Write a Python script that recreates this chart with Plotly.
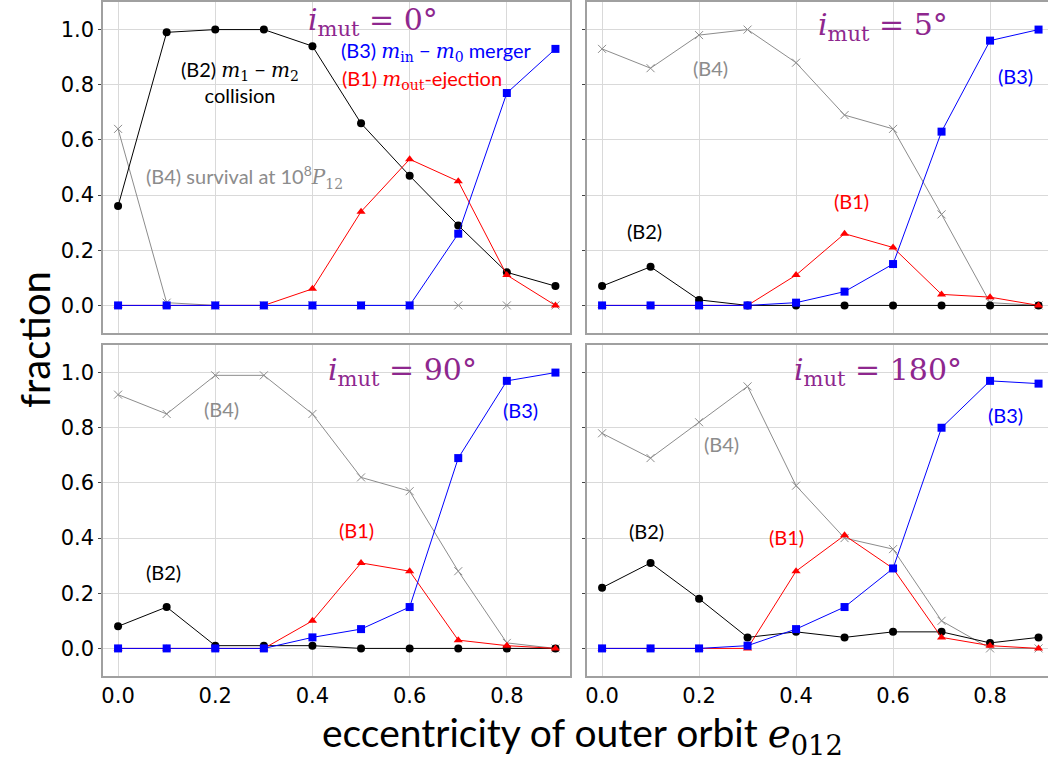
import plotly.graph_objects as go

# Outer-orbit eccentricity grid
ecc = [0.0, 0.1, 0.2, 0.3, 0.4, 0.5, 0.6, 0.7, 0.8, 0.9]

# Mutual inclination of each panel (degrees)
inclinations = [0, 5, 90, 180]

# i_mut = 0 deg
b1_i0 = [0.0, 0.0, 0.0, 0.0, 0.06, 0.34, 0.53, 0.45, 0.11, 0.0]
b2_i0 = [0.36, 0.99, 1.0, 1.0, 0.94, 0.66, 0.47, 0.29, 0.12, 0.07]
b3_i0 = [0.0, 0.0, 0.0, 0.0, 0.0, 0.0, 0.0, 0.26, 0.77, 0.93]
b4_i0 = [0.64, 0.01, 0.0, 0.0, 0.0, 0.0, 0.0, 0.0, 0.0, 0.0]

# i_mut = 5 deg
b1_i5 = [0.0, 0.0, 0.0, 0.0, 0.11, 0.26, 0.21, 0.04, 0.03, 0.0]
b2_i5 = [0.07, 0.14, 0.02, 0.0, 0.0, 0.0, 0.0, 0.0, 0.0, 0.0]
b3_i5 = [0.0, 0.0, 0.0, 0.0, 0.01, 0.05, 0.15, 0.63, 0.96, 1.0]
b4_i5 = [0.93, 0.86, 0.98, 1.0, 0.88, 0.69, 0.64, 0.33, 0.01, 0.0]

# i_mut = 90 deg
b1_i90 = [0.0, 0.0, 0.0, 0.0, 0.10, 0.31, 0.28, 0.03, 0.01, 0.0]
b2_i90 = [0.08, 0.15, 0.01, 0.01, 0.01, 0.0, 0.0, 0.0, 0.0, 0.0]
b3_i90 = [0.0, 0.0, 0.0, 0.0, 0.04, 0.07, 0.15, 0.69, 0.97, 1.0]
b4_i90 = [0.92, 0.85, 0.99, 0.99, 0.85, 0.62, 0.57, 0.28, 0.02, 0.0]

# i_mut = 180 deg
b1_i180 = [0.0, 0.0, 0.0, 0.0, 0.28, 0.41, 0.29, 0.04, 0.01, 0.0]
b2_i180 = [0.22, 0.31, 0.18, 0.04, 0.06, 0.04, 0.06, 0.06, 0.02, 0.04]
b3_i180 = [0.0, 0.0, 0.0, 0.01, 0.07, 0.15, 0.29, 0.80, 0.97, 0.96]
b4_i180 = [0.78, 0.69, 0.82, 0.95, 0.59, 0.40, 0.36, 0.10, 0.0, 0.0]

y_ticks = [0.0, 0.2, 0.4, 0.6, 0.8, 1.0]
x_ticks = [0.0, 0.2, 0.4, 0.6, 0.8]

panels = [
    (b1_i0, b2_i0, b3_i0, b4_i0),
    (b1_i5, b2_i5, b3_i5, b4_i5),
    (b1_i90, b2_i90, b3_i90, b4_i90),
    (b1_i180, b2_i180, b3_i180, b4_i180),
]

PURPLE = "#8E278E"
GRAY = "#8c8c8c"
SERIF = "DejaVu Serif"
SANS = "Lato"

fig = go.Figure()

for k, (b1, b2, b3, b4) in enumerate(panels):
    xa = "x" if k == 0 else f"x{k + 1}"
    ya = "y" if k == 0 else f"y{k + 1}"
    common = dict(x=ecc, mode="lines+markers", xaxis=xa, yaxis=ya,
                  showlegend=False, cliponaxis=False)
    fig.add_trace(go.Scatter(y=b4, line=dict(color=GRAY, width=1),
                             marker=dict(symbol="x-thin", size=8,
                                         line=dict(color=GRAY, width=1)),
                             **common))
    fig.add_trace(go.Scatter(y=b2, line=dict(color="black", width=1),
                             marker=dict(symbol="circle", size=8, color="black"),
                             **common))
    fig.add_trace(go.Scatter(y=b1, line=dict(color="red", width=1),
                             marker=dict(symbol="triangle-up", size=8, color="red"),
                             **common))
    fig.add_trace(go.Scatter(y=b3, line=dict(color="blue", width=1),
                             marker=dict(symbol="square", size=8, color="blue"),
                             **common))

# panel geometry (paper fractions)
x_left = [0.0, 0.4942]
x_right = [0.5122, 1.0]
y_top = [0.5089, 1.0]
y_bot = [0.0, 0.4911]

frame = "#a0a0a0"
grid = "#d9d9d9"
tickfont = dict(family="DejaVu Sans, Verdana, sans-serif", size=21,
                color="black")


def xaxis(domain, rng, anchor, labels):
    return dict(domain=domain, range=rng, anchor=anchor, tickvals=x_ticks,
                ticktext=[f"{v:.1f}" for v in x_ticks], showticklabels=labels,
                ticks="", showgrid=True, gridcolor=grid, gridwidth=1,
                zeroline=False, showline=True, linecolor=frame, linewidth=1.5,
                mirror=True, tickfont=tickfont)


def yaxis(domain, anchor, labels, mirror):
    return dict(domain=domain, range=[-0.1, 1.1], anchor=anchor,
                tickvals=y_ticks, ticktext=[f"{v:.1f}" for v in y_ticks],
                showticklabels=labels, ticks="outside", ticklen=3,
                tickcolor="#444", tickwidth=1, showgrid=True,
                gridcolor=grid, gridwidth=1, zeroline=False, showline=True,
                linecolor=frame, linewidth=1.5, mirror=mirror,
                tickfont=tickfont)


left_rng = [-0.031, 0.930]
right_rng = [-0.031, 0.9195]

fig.update_layout(
    xaxis=xaxis(x_left, left_rng, "y", False),
    yaxis=yaxis(y_top, "x", True, True),
    xaxis2=xaxis(x_right, right_rng, "y2", False),
    yaxis2=yaxis(y_top, "x2", False, False),
    xaxis3=xaxis(x_left, left_rng, "y3", True),
    yaxis3=yaxis(y_bot, "x3", True, True),
    xaxis4=xaxis(x_right, right_rng, "y4", True),
    yaxis4=yaxis(y_bot, "x4", False, False),
)


def m(s):
    return f'<span style="font-family:{SERIF}"><i>{s}</i></span>'


def sub(s):
    return f'<sub><span style="font-family:{SERIF}">{s}</span></sub>'


annotations = []


def label(k, x, y, text, color, size=20):
    xa = "x" if k == 0 else f"x{k + 1}"
    ya = "y" if k == 0 else f"y{k + 1}"
    annotations.append(dict(x=x, y=y, xref=xa, yref=ya, text=text,
                            showarrow=False, xanchor="center",
                            yanchor="middle",
                            font=dict(family=SANS, size=size, color=color)))


# panel titles
for k, (x, y) in enumerate([(0.524, 1.03), (0.58, 1.012), (0.586, 1.005),
                            (0.568, 1.005)]):
    title = (f'<i>i</i><sub>mut</sub> = {inclinations[k]}°')
    xa = "x" if k == 0 else f"x{k + 1}"
    ya = "y" if k == 0 else f"y{k + 1}"
    annotations.append(dict(x=x, y=y, xref=xa, yref=ya, text=title,
                            showarrow=False, xanchor="center",
                            yanchor="middle",
                            font=dict(family=SERIF, size=30, color=PURPLE)))

# panel 0 labels
label(0, 0.25, 0.81, f"(B2) {m('m')}{sub('1')} − {m('m')}{sub('2')}<br>collision",
      "black")
label(0, 0.655, 0.92, f"(B3) {m('m')}{sub('in')} − {m('m')}{sub('0')} merger",
      "blue")
label(0, 0.626, 0.82, f"(B1) {m('m')}{sub('out')}-ejection", "red")
label(0, 0.26, 0.467, f"(B4) survival at 10<sup>8</sup>{m('P')}{sub('12')}",
      GRAY)

# panel 1 labels
label(1, 0.223, 0.862, "(B4)", GRAY)
label(1, 0.852, 0.833, "(B3)", "blue")
label(1, 0.514, 0.38, "(B1)", "red")
label(1, 0.087, 0.268, "(B2)", "black")

# panel 2 labels
label(2, 0.213, 0.867, "(B4)", GRAY)
label(2, 0.828, 0.863, "(B3)", "blue")
label(2, 0.491, 0.428, "(B1)", "red")
label(2, 0.094, 0.276, "(B2)", "black")

# panel 3 labels
label(3, 0.246, 0.74, "(B4)", GRAY)
label(3, 0.832, 0.845, "(B3)", "blue")
label(3, 0.38, 0.403, "(B1)", "red")
label(3, 0.091, 0.424, "(B2)", "black")

# shared axis titles
annotations.append(dict(x=0.507, y=-0.0875, xref="paper", yref="paper",
                        text=f"eccentricity of outer orbit {m('e')}{sub('012')}",
                        showarrow=False, xanchor="center", yanchor="middle",
                        font=dict(family=SANS, size=39, color="black")))
annotations.append(dict(x=-0.072, y=0.5, xref="paper", yref="paper",
                        text="fraction", textangle=-90, showarrow=False,
                        xanchor="center", yanchor="middle",
                        font=dict(family=SANS, size=40, color="black")))

fig.update_layout(
    annotations=annotations,
    width=1048, height=760,
    margin=dict(l=103, r=0, t=2, b=84),
    paper_bgcolor="white", plot_bgcolor="white",
)

fig.write_html("out.html")
